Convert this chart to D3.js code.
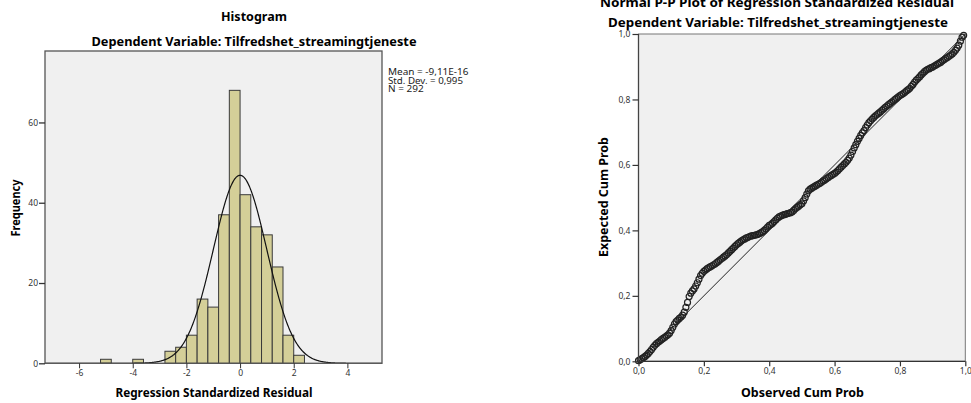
<!DOCTYPE html>
<html><head><meta charset="utf-8">
<script src="https://cdn.jsdelivr.net/npm/d3@7/dist/d3.min.js"></script>
<style>
body{margin:0;background:#fff}
svg{display:block}
text{font-family:"Noto Sans","DejaVu Sans",sans-serif}
</style>
</head><body>
<svg id="chart" width="971" height="403"></svg>
<script>
// ---------- data ----------
const histBinStarts = [-5.2, -4.0, -2.8, -2.4, -2.0, -1.6, -1.2, -0.8, -0.4, 0.0, 0.4, 0.8, 1.2, 1.6, 2.0];
const histFrequencies = [1, 1, 3, 4, 7, 16, 14, 37, 68, 42, 34, 32, 24, 7, 2];
const histBinWidth = 0.4;
const statMean = -9.11e-16;
const statSD = 0.995;
const statN = 292;
const statLabels = ["Mean = -9,11E-16", "Std. Dev. = 0,995", "N = 292"];
const histXTicks = [-6, -4, -2, 0, 2, 4];
const histYTicks = [0, 20, 40, 60];
const ppTicks = [0, 0.2, 0.4, 0.6, 0.8, 1.0];
const ppObserved = [
  0.000,0.005,0.010,0.015,0.020,0.025,0.030,0.035,0.040,0.045,0.050,0.055,0.060,0.065,0.070,0.075,0.080,0.085,0.090,0.095,
  0.100,0.105,0.110,0.115,0.120,0.125,0.130,0.135,0.140,0.145,0.150,0.155,0.160,0.165,0.170,0.175,0.180,0.185,0.190,0.195,
  0.200,0.205,0.210,0.215,0.220,0.225,0.230,0.235,0.240,0.245,0.250,0.255,0.260,0.265,0.270,0.275,0.280,0.285,0.290,0.295,
  0.300,0.305,0.310,0.315,0.320,0.325,0.330,0.335,0.340,0.345,0.350,0.355,0.360,0.365,0.370,0.375,0.380,0.385,0.390,0.395,
  0.400,0.405,0.410,0.415,0.420,0.425,0.430,0.435,0.440,0.445,0.450,0.455,0.460,0.465,0.470,0.475,0.480,0.485,0.490,0.495,
  0.500,0.505,0.510,0.515,0.520,0.525,0.530,0.535,0.540,0.545,0.550,0.555,0.560,0.565,0.570,0.575,0.580,0.585,0.590,0.595,
  0.600,0.605,0.610,0.615,0.620,0.625,0.630,0.635,0.640,0.645,0.650,0.655,0.660,0.665,0.670,0.675,0.680,0.685,0.690,0.695,
  0.700,0.705,0.710,0.715,0.720,0.725,0.730,0.735,0.740,0.745,0.750,0.755,0.760,0.765,0.770,0.775,0.780,0.785,0.790,0.795,
  0.800,0.805,0.810,0.815,0.820,0.825,0.830,0.835,0.840,0.845,0.850,0.855,0.860,0.865,0.870,0.875,0.880,0.885,0.890,0.895,
  0.900,0.905,0.910,0.915,0.920,0.925,0.930,0.935,0.940,0.945,0.950,0.955,0.960,0.965,0.970,0.975,0.980,0.985,0.990,0.995];
const ppExpected = [
  0.002,0.005,0.008,0.011,0.015,0.019,0.024,0.030,0.036,0.043,0.049,0.054,0.058,0.062,0.066,0.070,0.073,0.077,0.081,0.086,
  0.094,0.104,0.114,0.121,0.126,0.131,0.135,0.141,0.150,0.165,0.180,0.198,0.208,0.215,0.221,0.230,0.240,0.251,0.262,0.269,
  0.275,0.279,0.283,0.286,0.289,0.292,0.295,0.298,0.302,0.306,0.310,0.314,0.318,0.322,0.326,0.331,0.336,0.341,0.346,0.351,
  0.356,0.360,0.364,0.368,0.371,0.374,0.377,0.379,0.381,0.383,0.384,0.385,0.386,0.388,0.390,0.393,0.396,0.400,0.405,0.410,
  0.415,0.418,0.422,0.427,0.432,0.437,0.441,0.444,0.446,0.448,0.449,0.451,0.452,0.454,0.456,0.461,0.466,0.470,0.474,0.478,
  0.481,0.490,0.500,0.511,0.521,0.526,0.529,0.532,0.535,0.538,0.541,0.544,0.547,0.551,0.554,0.558,0.561,0.565,0.568,0.571,
  0.574,0.578,0.583,0.588,0.593,0.598,0.603,0.608,0.614,0.621,0.630,0.641,0.652,0.662,0.672,0.681,0.690,0.698,0.705,0.714,
  0.722,0.729,0.735,0.740,0.745,0.750,0.754,0.758,0.762,0.767,0.771,0.776,0.780,0.784,0.788,0.792,0.796,0.800,0.804,0.808,
  0.812,0.815,0.818,0.822,0.826,0.830,0.834,0.840,0.846,0.853,0.859,0.864,0.869,0.875,0.880,0.885,0.889,0.892,0.894,0.897,
  0.899,0.902,0.905,0.908,0.911,0.914,0.918,0.921,0.925,0.928,0.932,0.935,0.939,0.944,0.950,0.957,0.966,0.978,0.990,0.996];

// ---------- setup ----------
const svg = d3.select("#chart");
svg.append("rect").attr("width", 971).attr("height", 403).attr("fill", "#fff");
const plotBg = "#f0f0f0";
const tickColor = "#333";

function label(g, txt, x, y, opts) {
  const t = g.append("text").attr("x", x).attr("y", y).text(txt)
    .attr("font-size", opts.size).attr("fill", opts.fill || "#000")
    .attr("font-weight", opts.bold ? "bold" : "normal")
    .attr("text-anchor", opts.anchor || "middle");
  if (opts.width) t.attr("textLength", opts.width).attr("lengthAdjust", "spacingAndGlyphs");
  if (opts.rotate) t.attr("transform", `rotate(-90,${x},${y})`);
  return t;
}
const commaFmt = v => d3.format(".1f")(v).replace(".", ",");

// ---------- histogram ----------
{
  const hx = d3.scaleLinear().domain([-7.27, 5.29]).range([45, 382]);
  const hy = d3.scaleLinear().domain([0, 77.8]).range([363.3, 51]);
  const g = svg.append("g");
  g.append("rect").attr("x", hx.range()[0]).attr("y", hy.range()[1])
    .attr("width", hx.range()[1] - hx.range()[0]).attr("height", hy.range()[0] - hy.range()[1])
    .attr("fill", plotBg);
  g.append("defs").append("clipPath").attr("id", "hclip").append("rect")
    .attr("x", hx.range()[0]).attr("y", hy.range()[1])
    .attr("width", hx.range()[1] - hx.range()[0]).attr("height", hy.range()[0] - hy.range()[1]);

  g.selectAll("rect.bar").data(histBinStarts.map((s, i) => ({s, f: histFrequencies[i]})))
    .join("rect").attr("class", "bar")
    .attr("x", d => hx(d.s)).attr("width", d => hx(d.s + histBinWidth) - hx(d.s))
    .attr("y", d => hy(d.f)).attr("height", d => hy(0) - hy(d.f))
    .attr("fill", "#d4cf98").attr("stroke", "#3a3a3a").attr("stroke-width", 1);

  const pdf = x => Math.exp(-0.5 * ((x - statMean) / statSD) ** 2) / (statSD * Math.sqrt(2 * Math.PI));
  const xs = d3.range(hx.domain()[0], hx.domain()[1] + 0.001, 0.02);
  g.append("path").attr("clip-path", "url(#hclip)")
    .attr("d", d3.line().x(d => hx(d)).y(d => hy(statN * histBinWidth * pdf(d)))(xs))
    .attr("fill", "none").attr("stroke", "#111").attr("stroke-width", 1.2);

  g.append("rect").attr("x", hx.range()[0]).attr("y", hy.range()[1])
    .attr("width", hx.range()[1] - hx.range()[0]).attr("height", hy.range()[0] - hy.range()[1])
    .attr("fill", "none").attr("stroke", "#555").attr("stroke-width", 1.3);

  const ax = g.append("g").attr("transform", `translate(0,${hy(0)})`)
    .call(d3.axisBottom(hx).tickValues(histXTicks).tickSize(5).tickPadding(2).tickFormat(d => d3.format("")(d).replace("−", "-")));
  const ay = g.append("g").attr("transform", `translate(${hx.range()[0]},0)`)
    .call(d3.axisLeft(hy).tickValues(histYTicks).tickSize(6).tickPadding(1));
  [ax, ay].forEach(a => {
    a.select(".domain").remove();
    a.selectAll("line").attr("stroke", "#333").attr("stroke-width", 1.3);
    a.selectAll("text").attr("font-size", 8.5).attr("fill", tickColor)
      .attr("font-family", "'Noto Sans','DejaVu Sans',sans-serif");
  });
  ax.selectAll("line").attr("stroke-width", 1);

  label(svg, "Histogram", 254, 21, {size: 12, bold: true, width: 66});
  label(svg, "Dependent Variable: Tilfredshet_streamingtjeneste", 254, 45.5, {size: 12, bold: true, width: 325});
  label(svg, "Regression Standardized Residual", 214, 397, {size: 12, bold: true, width: 197});
  label(svg, "Frequency", 19.5, 208, {size: 12, bold: true, width: 57, rotate: true});
  statLabels.forEach((s, i) => {
    label(svg, s, 388, 75 + i * 8.7, {size: 8, anchor: "start", fill: "#222",
      width: [80.5, 75, 35.7][i]});
  });
}

// ---------- P-P plot ----------
{
  const px = d3.scaleLinear().domain([0, 1]).range([638.5, 965.3]);
  const py = d3.scaleLinear().domain([0, 1]).range([361.3, 34]);
  const g = svg.append("g");
  g.append("rect").attr("x", px(0)).attr("y", py(1)).attr("width", px(1) - px(0)).attr("height", py(0) - py(1))
    .attr("fill", plotBg).attr("stroke", "#777").attr("stroke-width", 1);

  g.append("line").attr("x1", px(0)).attr("y1", py(0)).attr("x2", px(1)).attr("y2", py(1))
    .attr("stroke", "#222").attr("stroke-width", 1);

  g.selectAll("circle").data(ppObserved.map((o, i) => [o, ppExpected[i]]))
    .join("circle").attr("cx", d => px(d[0])).attr("cy", d => py(d[1])).attr("r", 3)
    .attr("fill", "none").attr("stroke", "#222").attr("stroke-width", 1.2);

  // axis lines
  g.append("line").attr("x1", px(0)).attr("x2", px(0)).attr("y1", py(0)).attr("y2", py(1)).attr("stroke", "#444").attr("stroke-width", 1.3);
  g.append("line").attr("x1", px(0)).attr("x2", px(1)).attr("y1", py(0)).attr("y2", py(0)).attr("stroke", "#333").attr("stroke-width", 1.3);

  const ax = g.append("g").attr("transform", `translate(0,${py(0)})`)
    .call(d3.axisBottom(px).tickValues(ppTicks).tickSize(5).tickPadding(2).tickFormat(commaFmt));
  const ay = g.append("g").attr("transform", `translate(${px(0)},0)`)
    .call(d3.axisLeft(py).tickValues(ppTicks).tickSize(6).tickPadding(2).tickFormat(commaFmt));
  [ax, ay].forEach(a => {
    a.select(".domain").remove();
    a.selectAll("line").attr("stroke", "#333").attr("stroke-width", 1.2);
    a.selectAll("text").attr("font-size", 8.5).attr("fill", tickColor)
      .attr("font-family", "'Noto Sans','DejaVu Sans',sans-serif");
  });

  label(svg, "Normal P-P Plot of Regression Standardized Residual", 777, 6.7, {size: 12.5, bold: true, width: 354});
  label(svg, "Dependent Variable: Tilfredshet_streamingtjeneste", 778, 27.3, {size: 12.5, bold: true, width: 340});
  label(svg, "Observed Cum Prob", 802.5, 397.3, {size: 12, bold: true, width: 123});
  label(svg, "Expected Cum Prob", 608, 197, {size: 12, bold: true, width: 120, rotate: true});
}
</script>
</body></html>
